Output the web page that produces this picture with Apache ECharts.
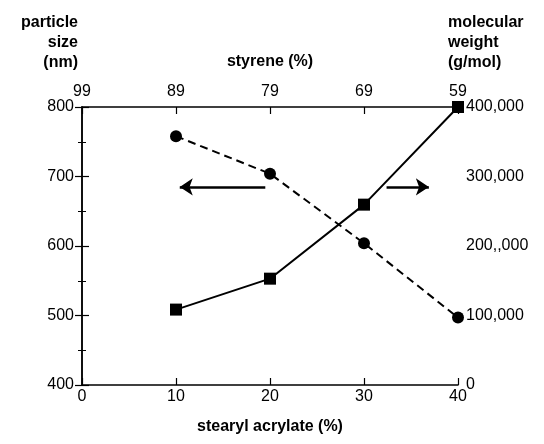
<!DOCTYPE html>
<html>
<head>
<meta charset="utf-8">
<script src="https://cdn.jsdelivr.net/npm/echarts@6/dist/echarts.min.js"></script>
<style>
html,body{margin:0;padding:0;background:#fff;}
#chart{width:544px;height:444px;}
</style>
</head>
<body>
<div id="chart"></div>
<script>
// ---- data ----
const stearylAcrylate = [10, 20, 30, 40];
const particleSize = [758, 704, 604, 497];          // nm (left axis)
const molecularWeight = [108500, 153000, 259500, 400000]; // g/mol (right axis)

const bottomTickLabels = ['0', '10', '20', '30', '40'];
const styreneTickLabels = ['99', '89', '79', '69', '59'];
const leftTickLabels = ['400', '500', '600', '700', '800'];
const rightTickLabels = ['0', '100,000', '200,,000', '300,000', '400,000'];

// annotation arrows (data coordinates: stearyl %, particle size)
const leftArrow = [[19.5, 685], [10.4, 685]];
const rightArrow = [[32.4, 685], [36.9, 685]];

const FONT = '"Liberation Sans", Arial, Helvetica, sans-serif';
const black = '#000';

const chart = echarts.init(document.getElementById('chart'), null, {renderer: 'canvas'});

const axisLineStyle = {show: true, lineStyle: {color: black, width: 1.5}};
const tickStyle = {show: true, inside: true, length: 7, lineStyle: {color: black, width: 1.2}};
const labelStyle = {color: black, fontSize: 16, fontFamily: FONT};

const option = {
  animation: false,
  backgroundColor: '#fff',
  grid: {left: 82, right: 86, top: 107, bottom: 59, containLabel: false},
  xAxis: [
    {
      type: 'value', position: 'bottom', min: 0, max: 40, interval: 10,
      axisLine: axisLineStyle, axisTick: tickStyle,
      axisLabel: Object.assign({margin: 4, formatter: v => bottomTickLabels[Math.round(v / 10)]}, labelStyle),
      splitLine: {show: false},
      name: 'stearyl acrylate (%)', nameLocation: 'middle', nameGap: 34,
      nameTextStyle: {color: black, fontSize: 16, fontWeight: 'bold', fontFamily: FONT}
    },
    {
      type: 'value', position: 'top', min: 0, max: 40, interval: 10,
      axisLine: axisLineStyle, axisTick: tickStyle,
      axisLabel: Object.assign({margin: 7, formatter: v => styreneTickLabels[Math.round(v / 10)]}, labelStyle),
      splitLine: {show: false},
      name: 'styrene (%)', nameLocation: 'middle', nameGap: 37,
      nameTextStyle: {color: black, fontSize: 16, fontWeight: 'bold', fontFamily: FONT}
    }
  ],
  yAxis: [
    {
      type: 'value', position: 'left', min: 400, max: 800, interval: 100,
      axisLine: axisLineStyle, axisTick: tickStyle,
      minorTick: {show: true, splitNumber: 2, length: 4, lineStyle: {color: black, width: 1}},
      axisLabel: Object.assign({margin: 8, formatter: v => leftTickLabels[Math.round((v - 400) / 100)]}, labelStyle),
      splitLine: {show: false}, minorSplitLine: {show: false}
    },
    {
      type: 'value', position: 'right', min: 0, max: 400000, interval: 100000,
      axisLine: axisLineStyle, axisTick: tickStyle,
      minorTick: {show: true, splitNumber: 2, length: 4, lineStyle: {color: black, width: 1}},
      axisLabel: Object.assign({margin: 8, formatter: v => rightTickLabels[Math.round(v / 100000)]}, labelStyle),
      splitLine: {show: false}, minorSplitLine: {show: false}
    }
  ],
  graphic: [
    {
      type: 'text', x: 78, y: 13,
      style: {text: 'particle\nsize\n(nm)', fill: black, font: 'bold 16px ' + FONT, align: 'right', lineHeight: 20}
    },
    {
      type: 'text', x: 448, y: 13,
      style: {text: 'molecular\nweight\n(g/mol)', fill: black, font: 'bold 16px ' + FONT, align: 'left', lineHeight: 20}
    }
  ],
  series: [
    {
      name: 'particle size', type: 'line', xAxisIndex: 0, yAxisIndex: 0,
      data: stearylAcrylate.map((x, i) => [x, particleSize[i]]),
      symbol: 'circle', symbolSize: 12,
      itemStyle: {color: black},
      lineStyle: {color: black, width: 2, type: [8, 5]}
    },
    {
      name: 'molecular weight', type: 'line', xAxisIndex: 0, yAxisIndex: 1,
      data: stearylAcrylate.map((x, i) => [x, molecularWeight[i]]),
      symbol: 'rect', symbolSize: 12,
      itemStyle: {color: black},
      lineStyle: {color: black, width: 2}
    },
    {
      type: 'lines', coordinateSystem: 'cartesian2d', xAxisIndex: 0, yAxisIndex: 0,
      symbol: ['none', 'arrow'], symbolSize: 13,
      lineStyle: {color: black, width: 2.5, opacity: 1},
      data: [{coords: leftArrow}, {coords: rightArrow}]
    }
  ]
};
chart.setOption(option);
</script>
</body>
</html>
